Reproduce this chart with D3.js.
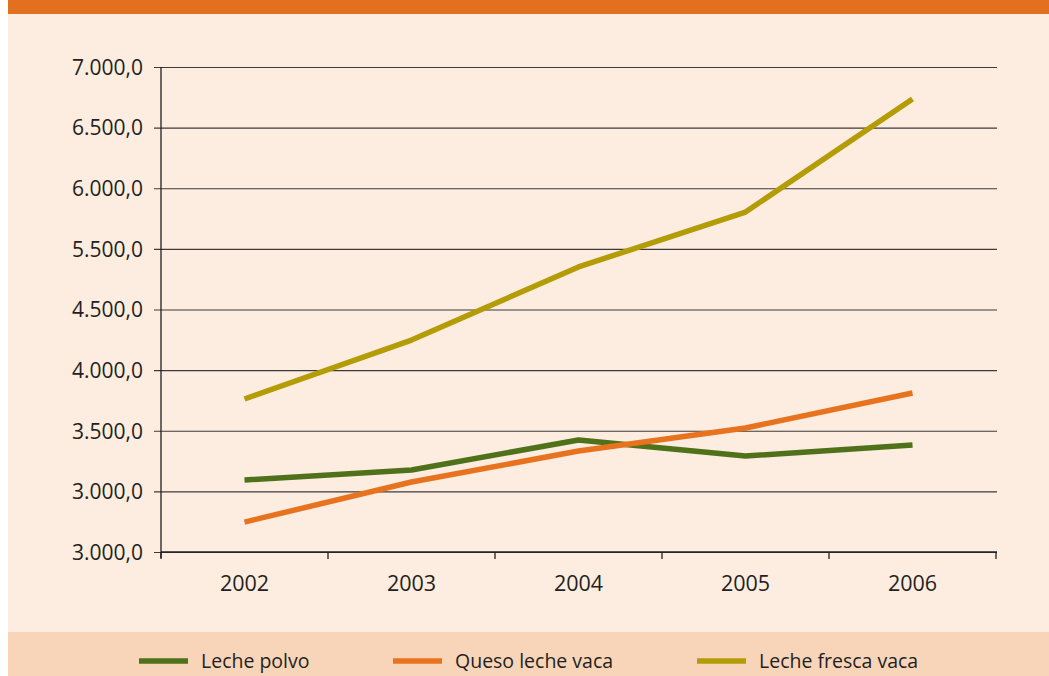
<!DOCTYPE html>
<html><head><meta charset="utf-8">
<script src="https://cdn.jsdelivr.net/npm/d3@7"></script>
<style>
html,body{margin:0;padding:0;background:#ffffff;}
svg{display:block;}
</style></head>
<body>
<svg id="chart" width="1049" height="676"></svg>
<script>
const years = ["2002","2003","2004","2005","2006"];
const yTickValues = [3000,3500,4000,4500,5000,5500,6000,6500,7000];
const yTickLabels = ["3.000,0","3.000,0","3.500,0","4.000,0","4.500,0","5.500,0","6.000,0","6.500,0","7.000,0"];
const lechePolvo = [3594,3676,3924,3792,3882];
const quesoLecheVaca = [3247,3577,3833,4023,4311];
const lecheFrescaVaca = [4262,4748,5351,5804,6736];
const seriesNames = ["Leche polvo","Queso leche vaca","Leche fresca vaca"];
const seriesColors = ["#4f7119","#e8731f","#b39c05"];

const series = [lechePolvo, quesoLecheVaca, lecheFrescaVaca].map((v,i)=>({name:seriesNames[i],color:seriesColors[i],values:v}));

const svg = d3.select("#chart");
// panel background
svg.append("rect").attr("x",8).attr("y",0).attr("width",1041).attr("height",676).attr("fill","#fdece0");
svg.append("rect").attr("x",8).attr("y",0).attr("width",1041).attr("height",14).attr("fill","#e2701e");
svg.append("rect").attr("x",8).attr("y",632).attr("width",1041).attr("height",44).attr("fill","#f8d5b8");

const x = d3.scaleBand().domain(years).range([161,996]).paddingInner(0).paddingOuter(0);
const y = d3.scaleLinear().domain([3000,7000]).range([552,67]);

// gridlines with left ticks
const yAxis = d3.axisLeft(y).tickValues(yTickValues)
  .tickFormat((d,i)=>yTickLabels[i]).tickSize(-(997-154)+7).tickPadding(0);
const gy = svg.append("g").attr("transform","translate(161,0)").call(yAxis);
gy.select(".domain").remove();
gy.selectAll(".tick line").attr("x1",-7).attr("x2",836).attr("stroke","#3d3a3a").attr("stroke-width",1.2);
gy.selectAll(".tick text").attr("x",-18).attr("dy","0.35em")
  .attr("font-family","'Open Sans', sans-serif").attr("font-size",21).attr("fill","#231f20");

// y axis vertical line
svg.append("line").attr("x1",161).attr("x2",161).attr("y1",y(7000)).attr("y2",558).attr("stroke","#231f20").attr("stroke-width",1.3);

// x axis
const xAxis = d3.axisBottom(x).tickSize(0).tickPadding(0);
const gx = svg.append("g").attr("transform","translate(0,552)").call(xAxis);
gx.select(".domain").attr("d","M161,0H997").attr("stroke","#231f20").attr("stroke-width",1.3);
gx.selectAll(".tick text").attr("y",31).attr("dy","0.35em")
  .attr("font-family","'Open Sans', sans-serif").attr("font-size",21.5).attr("fill","#231f20");
// band boundary ticks
const boundaries = years.map(d=>x(d)).concat([x(years[years.length-1])+x.bandwidth()]);
svg.append("g").selectAll("line").data(boundaries).join("line")
  .attr("x1",d=>d).attr("x2",d=>d).attr("y1",552).attr("y2",559)
  .attr("stroke","#231f20").attr("stroke-width",1.3);

// lines
const line = d3.line().x((d,i)=>x(years[i])+x.bandwidth()/2).y(d=>y(d));
svg.append("g").selectAll("path").data(series).join("path")
  .attr("d",d=>line(d.values)).attr("fill","none").attr("stroke",d=>d.color)
  .attr("stroke-width",5.5).attr("stroke-linejoin","round");

// legend
const legendX = [139,393,697];
const lg = svg.append("g").selectAll("g").data(series).join("g")
  .attr("transform",(d,i)=>`translate(${legendX[i]},661)`);
lg.append("line").attr("x1",0).attr("x2",49).attr("y1",0).attr("y2",0)
  .attr("stroke",d=>d.color).attr("stroke-width",5.5);
lg.append("text").attr("x",62).attr("y",0).attr("dy","0.35em").text(d=>d.name)
  .attr("font-family","'Open Sans', sans-serif").attr("font-size",19.5).attr("fill","#231f20");
</script>
</body></html>
